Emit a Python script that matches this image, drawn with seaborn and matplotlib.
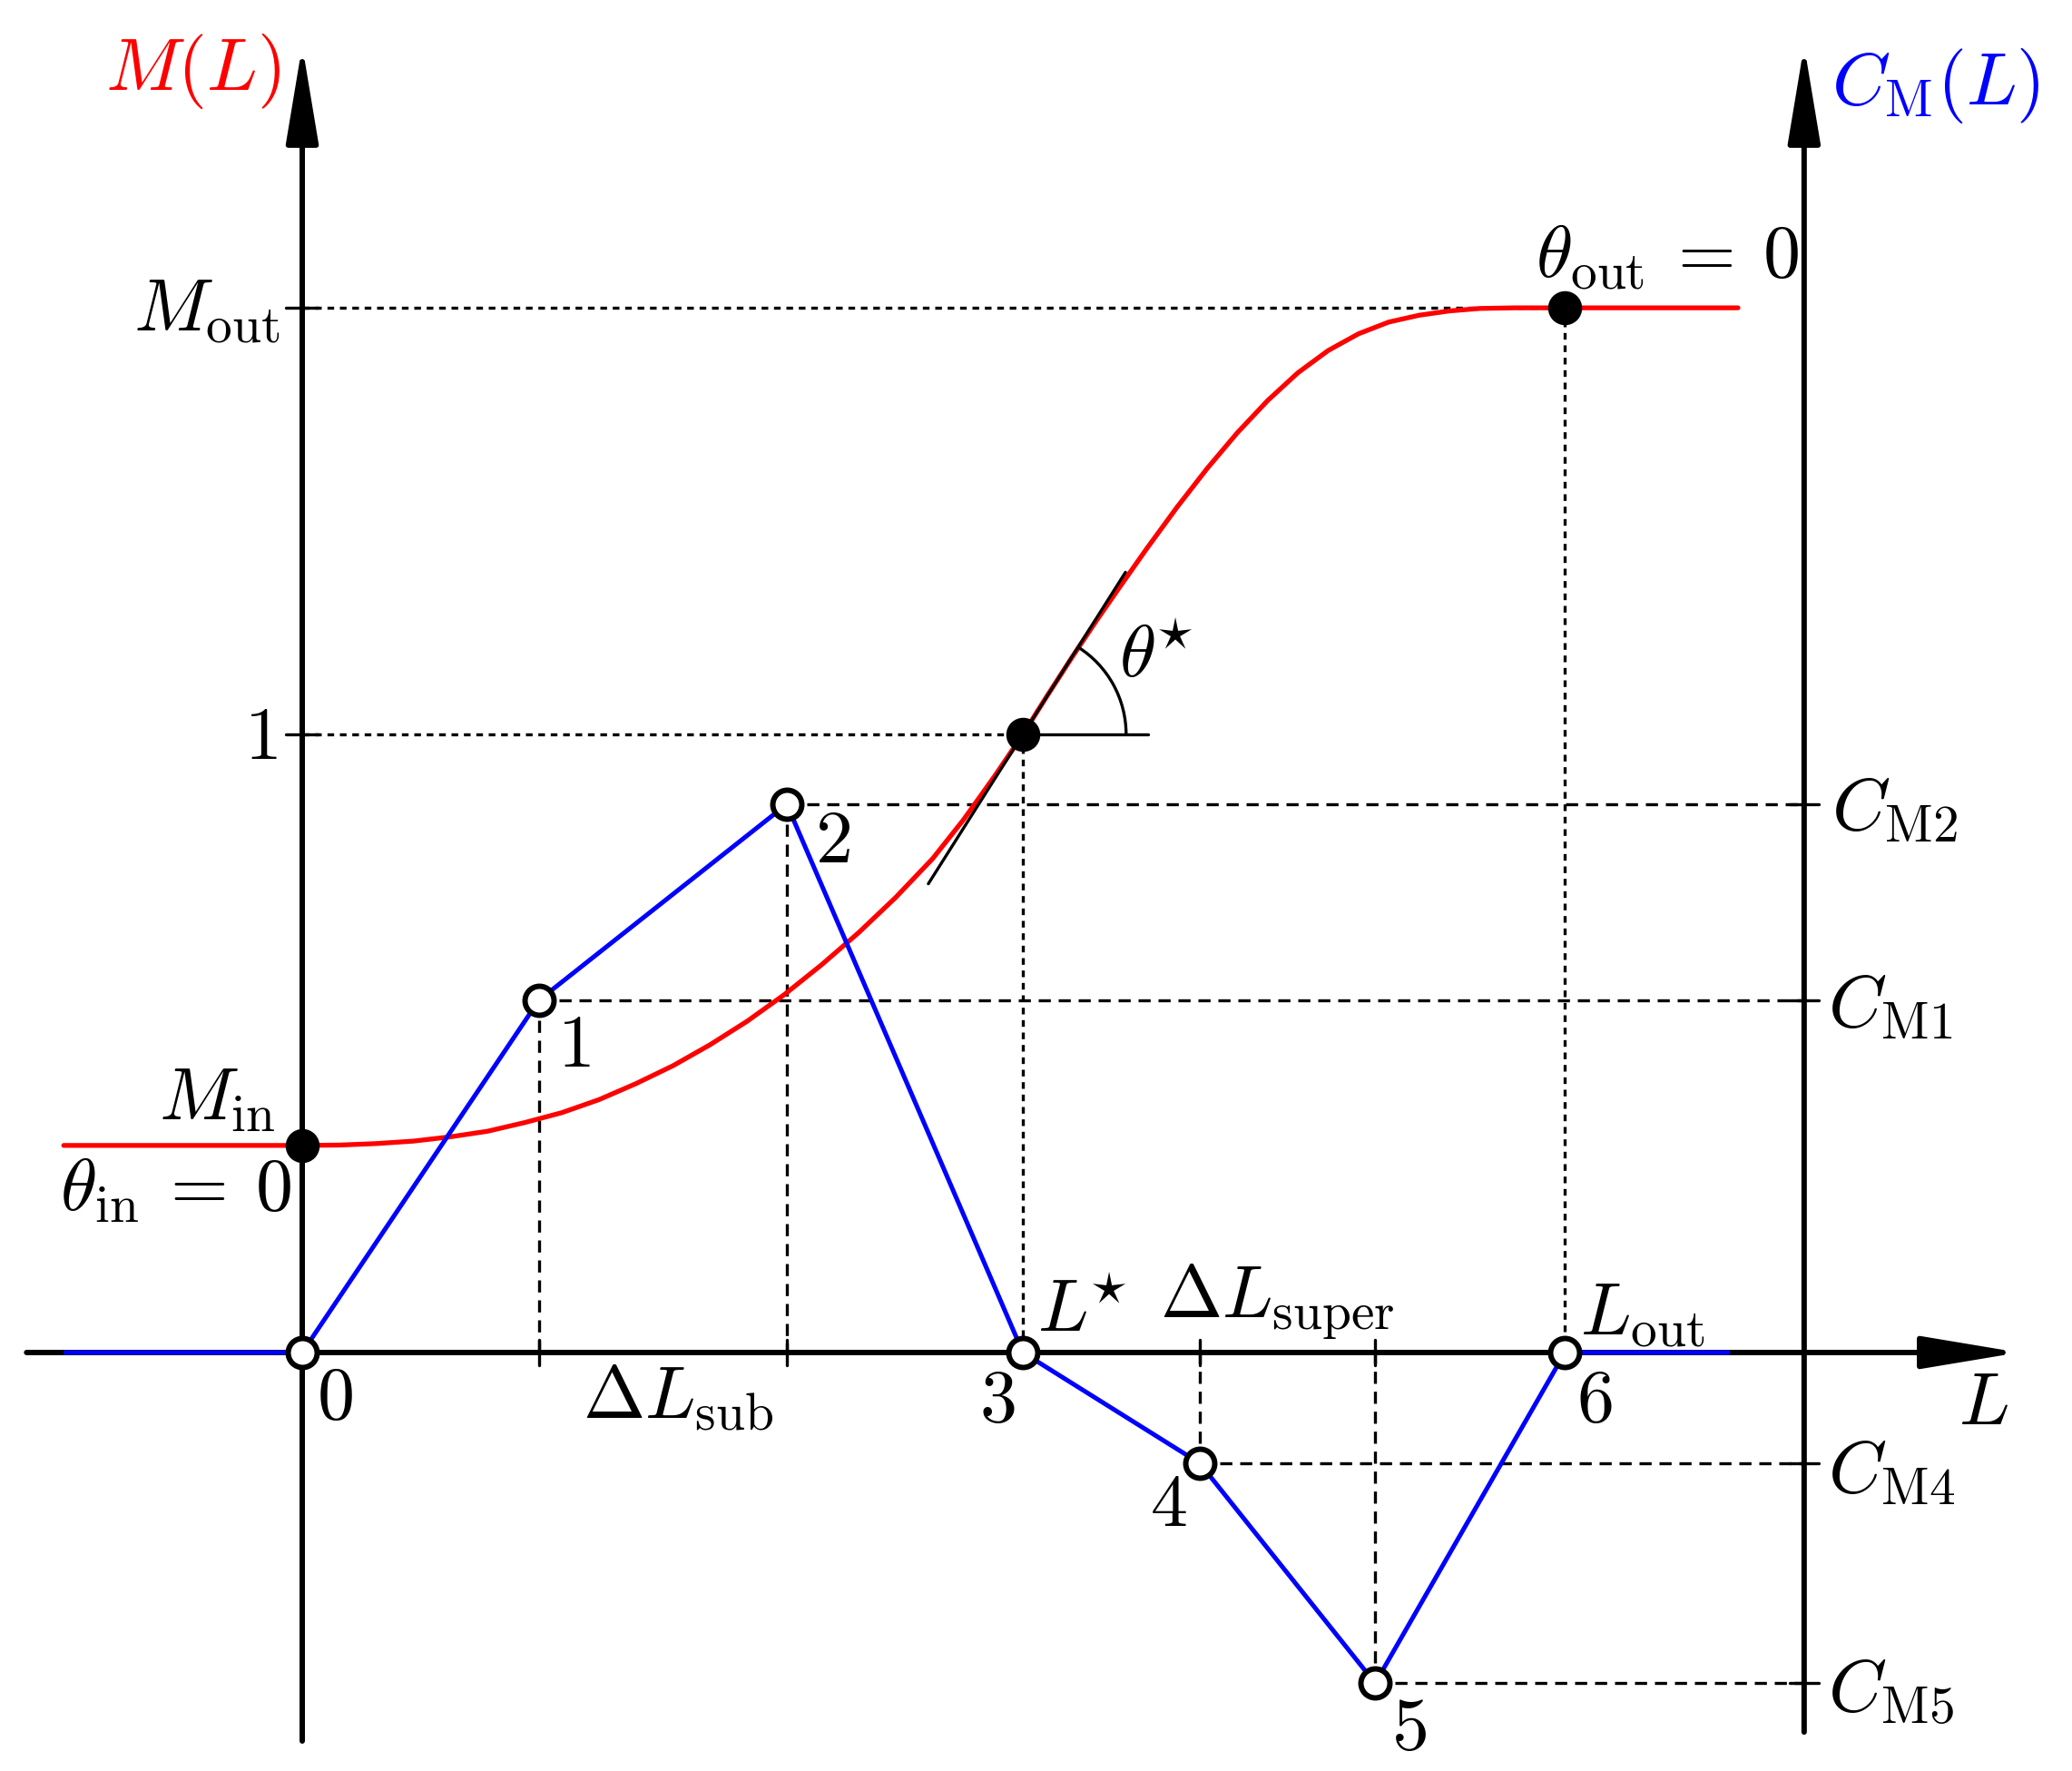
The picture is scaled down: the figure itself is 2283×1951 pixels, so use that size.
import numpy as np
import pandas as pd
import matplotlib
matplotlib.use('Agg')
import matplotlib.pyplot as plt
import seaborn as sns
from matplotlib.patches import Arc

sns.set_style('white')
plt.rcParams['mathtext.fontset'] = 'cm'
plt.rcParams['font.family'] = ['DejaVu Serif']

# nodes of the piecewise linear C_M(L)
node_L = [0.0, 0.383, 0.784, 1.166, 1.452, 1.736, 2.043]
node_CM = [0.0, 0.570, 0.887, 0.0, -0.179, -0.535, 0.0]
cm_left_end = -0.383
cm_right_end = 2.307

M_in = 0.335
M_out = 1.690
L_star = 1.166
M_star = 1.0
L_out = 2.043
tangent_slope = 1.58
tangent_L = [1.013, 1.332]

# M(L) curve
curve_L = [-0.386, 0.0, 0.06, 0.12, 0.18, 0.24, 0.30, 0.36, 0.42, 0.48, 0.54,
           0.60, 0.66, 0.72, 0.78, 0.84, 0.90, 0.96, 1.02, 1.07, 1.12, 1.166,
           1.205, 1.245, 1.285, 1.3245, 1.366, 1.415, 1.464, 1.513, 1.562,
           1.611, 1.660, 1.709, 1.758, 1.807, 1.856, 1.905, 1.962, 2.043, 2.323]
curve_M = [0.335, 0.335, 0.3356, 0.338, 0.342, 0.349, 0.358, 0.372, 0.388, 0.409,
           0.435, 0.464, 0.498, 0.536, 0.579, 0.627, 0.679, 0.736, 0.799, 0.862,
           0.932, 1.000, 1.062, 1.124, 1.184, 1.241, 1.300, 1.367, 1.430, 1.488,
           1.540, 1.585, 1.621, 1.648, 1.667, 1.678, 1.685, 1.689, 1.690, 1.690,
           1.690]

RED = '#ff0000'
BLUE = '#0000ff'
FS = 59

cm_df = pd.DataFrame({'L': [cm_left_end] + node_L + [cm_right_end],
                      'C': [0.0] + node_CM + [0.0]})
m_df = pd.DataFrame({'L': curve_L, 'M': curve_M})

fig = plt.figure(figsize=(22.83, 19.51), dpi=100)
ax = fig.add_axes([0, 0, 1, 1])
ax.set_xlim(-0.489, 2.8634)
ax.set_ylim(-0.677, 2.188)
ax.axis('off')

right_x = 2.430
dot = (0, (2.2, 1.9))
dash = (0, (4.0, 2.6))
dlw = 2.4

# axes with arrows
arrow = dict(arrowstyle='-|>,head_length=3.3,head_width=0.55', mutation_scale=20,
             lw=4.3, color='black', shrinkA=0, shrinkB=0)
ax.annotate('', xy=(2.778, 0), xytext=(-0.446, 0), arrowprops=arrow, zorder=2)
ax.annotate('', xy=(0, 2.1145), xytext=(0, -0.6285), arrowprops=arrow, zorder=2)
ax.annotate('', xy=(right_x, 2.1145), xytext=(right_x, -0.614), arrowprops=arrow, zorder=2)

# dotted guides
ax.plot([0, L_out], [M_out, M_out], color='black', lw=dlw, ls=dot, zorder=1)
ax.plot([0, L_star], [M_star, M_star], color='black', lw=dlw, ls=dot, zorder=1)
ax.plot([L_star, L_star], [M_star, 0], color='black', lw=dlw, ls=dot, zorder=1)
ax.plot([L_out, L_out], [M_out, 0], color='black', lw=dlw, ls=dot, zorder=1)

# dashed guides to the C_M levels
for i in [1, 2, 4, 5]:
    ax.plot([node_L[i], right_x], [node_CM[i], node_CM[i]], color='black', lw=dlw, ls=dash, zorder=1)
    ax.plot([node_L[i], node_L[i]], [node_CM[i], 0], color='black', lw=dlw, ls=dash, zorder=1)
    ax.plot([right_x - 0.024, right_x + 0.024], [node_CM[i], node_CM[i]], color='black', lw=dlw, zorder=1)
    ax.plot([node_L[i], node_L[i]], [-0.021, 0.021], color='black', lw=dlw, zorder=1)
for y in [M_out, M_star]:
    ax.plot([-0.026, 0.026], [y, y], color='black', lw=dlw, zorder=1)

# curves
sns.lineplot(data=m_df, x='L', y='M', sort=False, estimator=None, color=RED, lw=3.8, ax=ax, zorder=3)
sns.lineplot(data=cm_df, x='L', y='C', sort=False, estimator=None, color=BLUE, lw=3.6, ax=ax, zorder=4)

# tangent and angle
tan_M = [M_star + tangent_slope * (l - L_star) for l in tangent_L]
ax.plot(tangent_L, tan_M, color='black', lw=2.4, zorder=5)
ax.plot([L_star, 1.369], [M_star, M_star], color='black', lw=2.4, zorder=5)
r = 0.167
ax.add_patch(Arc((L_star, M_star), 2 * r, 2 * r, theta1=0,
                 theta2=np.degrees(np.arctan(tangent_slope)), color='black', lw=2.4, zorder=5))

# markers
sns.scatterplot(x=node_L, y=node_CM, s=23 ** 2, facecolor='white', edgecolor='black',
                linewidth=4.3, ax=ax, zorder=6)
sns.scatterplot(x=[0, L_star, L_out], y=[M_in, M_star, M_out], s=27 ** 2, color='black',
                linewidth=0, ax=ax, zorder=6)
ax.set_xlabel('')
ax.set_ylabel('')

def label(x, y, s, ha='left', color='black'):
    ax.text(x, y, s, ha=ha, va='baseline', fontsize=FS, color=color, zorder=7)

label(-0.035, 2.042, r'$M(L)$', ha='right', color=RED)
label(2.474, 2.019, r'$C_{\mathrm{M}}(L)$', color=BLUE)
label(-0.036, 1.653, r'$M_{\mathrm{out}}$', ha='right')
label(-0.040, 0.960, r'$1$', ha='right')
label(-0.043, 0.377, r'$M_{\mathrm{in}}$', ha='right')
label(-0.017, 0.2305, r'$\theta_{\mathrm{in}}\:=\:0$', ha='right')
label(0.024, -0.107, r'$0$')
label(0.608, -0.107, r'$\Delta L_{\mathrm{sub}}$', ha='center')
label(1.125, -0.112, r'$3$', ha='center')
label(1.190, 0.034, r'$L^{\!\!\star}$')
label(1.387, 0.057, r'$\Delta L_{\mathrm{super}}$')
label(2.067, 0.029, r'$L_{\mathrm{out}}$')
label(2.061, -0.112, r'$6$')
label(2.7195, -0.116, r'$L$', ha='center')
label(1.431, -0.280, r'$4$', ha='right')
label(1.762, -0.642, r'$5$')
label(0.412, 0.4626, r'$1$')
label(0.830, 0.793, r'$2$')
label(2.474, 0.846, r'$C_{\mathrm{M2}}$')
label(2.468, 0.527, r'$C_{\mathrm{M1}}$')
label(2.468, -0.226, r'$C_{\mathrm{M4}}$')
label(2.468, -0.580, r'$C_{\mathrm{M5}}$')
label(1.996, 1.740, r'$\theta_{\mathrm{out}}\:=\:0$')
label(1.322, 1.0925, r'$\theta^{\!\!\star}$')

fig.savefig('out.png', dpi=100, facecolor='white')
